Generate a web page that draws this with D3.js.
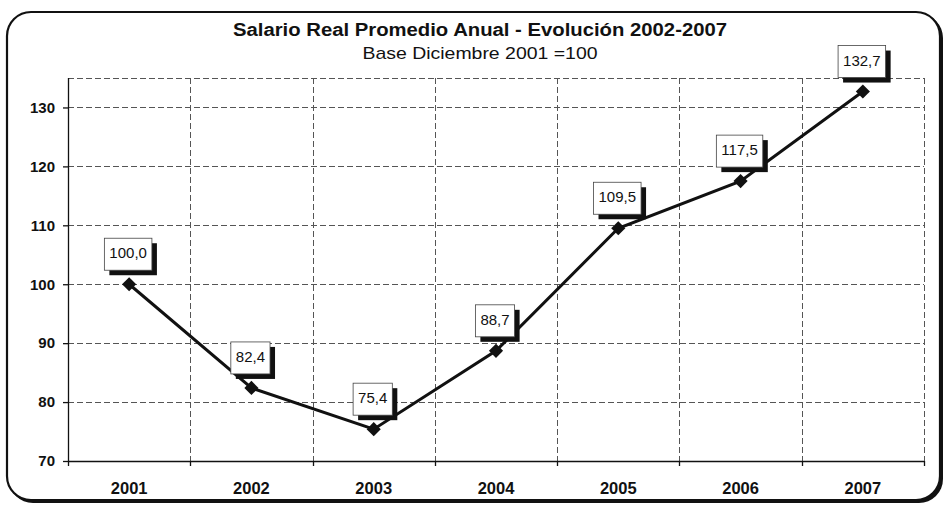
<!DOCTYPE html>
<html>
<head>
<meta charset="utf-8">
<script src="https://cdn.jsdelivr.net/npm/d3@7"></script>
<style>
  html, body { margin: 0; padding: 0; background: #fff; }
  svg { display: block; font-family: Arial, "Liberation Sans", sans-serif; }
</style>
</head>
<body>
<svg id="chart" width="948" height="506"></svg>
<script>
const years = ["2001", "2002", "2003", "2004", "2005", "2006", "2007"];
const values = [100.0, 82.4, 75.4, 88.7, 109.5, 117.5, 132.7];
const labels = ["100,0", "82,4", "75,4", "88,7", "109,5", "117,5", "132,7"];
const yTicks = [70, 80, 90, 100, 110, 120, 130];
const titleText = "Salario Real Promedio Anual - Evolución 2002-2007";
const subtitleText = "Base Diciembre 2001 =100";

const svg = d3.select("#chart");
const m = { left: 68, right: 924, top: 78, bottom: 461 };

// outer frame
svg.append("rect").attr("x", 9).attr("y", 14).attr("width", 934).attr("height", 489)
  .attr("rx", 24).attr("fill", "#111");
svg.append("rect").attr("x", 7).attr("y", 12).attr("width", 933).attr("height", 488)
  .attr("rx", 24).attr("fill", "#fff").attr("stroke", "#111").attr("stroke-width", 2.2);

const x = d3.scaleBand().domain(years).range([m.left, m.right]).padding(0);
const y = d3.scaleLinear().domain([70, 135]).range([m.bottom, m.top]);

// grid
const grid = svg.append("g").attr("stroke", "#555").attr("stroke-width", 1).attr("stroke-dasharray", "6,3");
grid.selectAll("line.h").data(yTicks.slice(1).concat([135])).join("line")
  .attr("x1", m.left).attr("x2", m.right)
  .attr("y1", d => Math.round(y(d)) + 0.5).attr("y2", d => Math.round(y(d)) + 0.5);
const bounds = years.slice(1).map(d => x(d)).concat([m.right]);
grid.selectAll("line.v").data(bounds).join("line")
  .attr("x1", d => Math.round(d) + 0.5).attr("x2", d => Math.round(d) + 0.5)
  .attr("y1", m.top).attr("y2", m.bottom);

// y axis
const yAxis = svg.append("g").attr("transform", `translate(${m.left},0)`)
  .call(d3.axisLeft(y).tickValues(yTicks).tickSize(5).tickPadding(8));
yAxis.select(".domain").attr("d", `M0.5,${m.top}V${m.bottom}`).attr("stroke", "#111").attr("stroke-width", 1.3);
yAxis.selectAll(".tick line").attr("stroke", "#111").attr("stroke-width", 1.3);
yAxis.selectAll(".tick text").attr("font-size", 15).attr("font-weight", "bold").attr("fill", "#111")
  .attr("font-family", "Arial, 'Liberation Sans', sans-serif");

// x axis
const xAxis = svg.append("g").attr("transform", `translate(0,${m.bottom})`)
  .call(d3.axisBottom(x).tickSize(0).tickPadding(21));
xAxis.select(".domain").attr("d", `M${m.left},0.5H${m.right}`).attr("stroke", "#111").attr("stroke-width", 1.3);
xAxis.selectAll(".tick text").attr("font-size", 16.5).attr("font-weight", "bold").attr("fill", "#111")
  .attr("font-family", "Arial, 'Liberation Sans', sans-serif");
svg.append("g").selectAll("line").data([m.left].concat(bounds)).join("line")
  .attr("x1", d => Math.round(d) + 0.5).attr("x2", d => Math.round(d) + 0.5)
  .attr("y1", m.bottom).attr("y2", m.bottom + 5).attr("stroke", "#111").attr("stroke-width", 1.3);

// line
const cx = d => x(d) + x.bandwidth() / 2;
svg.append("path").datum(values.map((v, i) => [cx(years[i]), y(v)]))
  .attr("d", d3.line()).attr("fill", "none").attr("stroke", "#111").attr("stroke-width", 3);

// markers (rotated squares)
svg.append("g").selectAll("path").data(values).join("path")
  .attr("d", d3.symbol(d3.symbolSquare, 100))
  .attr("transform", (d, i) => `translate(${cx(years[i])},${y(d)}) rotate(45)`)
  .attr("fill", "#111");

// labels
const lg = svg.append("g");
values.forEach((v, i) => {
  const px = cx(years[i]), py = y(v);
  const t = lg.append("text").attr("x", px - 1).attr("y", py - 30)
    .attr("text-anchor", "middle").attr("dominant-baseline", "middle")
    .attr("font-size", 15).attr("fill", "#111").text(labels[i]);
  const w = t.node().getComputedTextLength() + 10;
  const bh = 32, bx = px - 1 - w / 2, by = py - 14 - bh;
  lg.insert("rect", "text").attr("x", bx + 5).attr("y", by + 5).attr("width", w).attr("height", bh).attr("fill", "#111");
  lg.insert("rect", "text").attr("x", bx).attr("y", by).attr("width", w).attr("height", bh)
    .attr("fill", "#fff").attr("stroke", "#444").attr("stroke-width", 0.8);
});
lg.selectAll("text").raise();

// titles
svg.append("text").attr("x", 480).attr("y", 36).attr("text-anchor", "middle")
  .attr("font-size", 17.5).attr("font-weight", "bold").attr("fill", "#111")
  .attr("textLength", 494).attr("lengthAdjust", "spacingAndGlyphs").text(titleText);
svg.append("text").attr("x", 480).attr("y", 59).attr("text-anchor", "middle")
  .attr("font-size", 17).attr("fill", "#111")
  .attr("textLength", 235).attr("lengthAdjust", "spacingAndGlyphs").text(subtitleText);
</script>
</body>
</html>
